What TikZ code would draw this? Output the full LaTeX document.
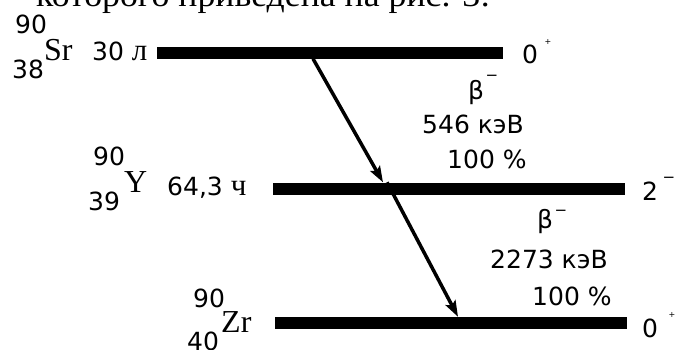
\documentclass[tikz,border=0pt]{standalone}
\usepackage{fontspec}
\usepackage{graphicx}
\setmainfont{DejaVu Sans}
\newfontfamily\sansf{DejaVu Sans}
\newfontfamily\serf{Liberation Serif}
\usetikzlibrary{arrows.meta,calc}
\tikzset{
  level/.style={fill=black, draw=none, minimum height=12pt, inner sep=0pt, anchor=west},
  lbl/.style={anchor=base west, inner sep=0pt, font=\sansf\fontsize{25}{25}\selectfont},
  sym/.style={anchor=base west, inner sep=0pt, font=\serf\fontsize{32}{32}\selectfont},
  sgn/.style={inner sep=0pt, font=\sansf\fontsize{15}{15}\selectfont},
  tiny/.style={inner sep=0pt, font=\sansf\fontsize{8}{8}\selectfont},
  decay/.style={line width=3.5pt, -{Stealth[length=16pt,width=11pt,inset=3pt]}}
}
\begin{document}
\begin{tikzpicture}[x=1pt,y=-1pt]
\useasboundingbox (0,0) rectangle (675,349);
\clip (0,0) rectangle (675,349);
% cut-off line of the surrounding text
\node[anchor=base west, inner sep=0pt, font=\serf\fontsize{33}{33}\selectfont] (top) at (36,6)
  {\resizebox{454pt}{\height}{которого приведена на рис. 3:}};
% levels
\node[level, minimum width=346pt] (bar1) at (157,52.5) {};
\node[level, minimum width=352pt] (bar2) at (273,188.5) {};
\node[level, minimum width=352pt] (bar3) at (275,323) {};
% Sr
\node[lbl] (srA) at (15,33) {90};
\node[lbl] (srZ) at (12,78) {38};
\node[sym] (srS) at (44,60) {Sr};
\node[lbl] (srT) at (92,60) {30 {\serf\fontsize{31}{31}\selectfont л}};
\node[lbl] (srJ) at (522,63) {0};
\node[tiny] (srP) at (548,42) {+};
% Y
\node[lbl] (yA) at (93,165) {90};
\node[lbl] (yZ) at (88,210) {39};
\node[sym] (yS) at (124,192) {Y};
\node[lbl] (yT) at (167,195) {64,3 {\serf\fontsize{31}{31}\selectfont ч}};
\node[lbl] (yJ) at (642,200) {2};
\node[sgn] (yP) at (669,180) {−};
% Zr
\node[lbl] (zA) at (193,307) {90};
\node[lbl] (zZ) at (187,350) {40};
\node[sym] (zS) at (221,332) {Zr};
\node[lbl] (zJ) at (642,337) {0};
\node[tiny] (zP) at (672,315) {+};
% decay labels
\node[lbl] (b1) at (468,99) {β};
\node[sgn] (b1m) at (492,78) {−};
\node[lbl] (e1) at (422,133) {546 кэВ};
\node[lbl] (p1) at (447,168) {100 \%};
\node[lbl] (b2) at (537,228) {β};
\node[sgn] (b2m) at (561,213) {−};
\node[lbl] (e2) at (490,268) {2273 кэВ};
\node[lbl] (p2) at (532,305) {100 \%};
% decay arrows
\coordinate (a1s) at ([xshift=156pt]bar1.south west);
\coordinate (a1e) at ([xshift=110pt]bar2.north west);
\coordinate (a2s) at ([xshift=114pt]bar2.north west);
\coordinate (a2e) at ([xshift=183pt]bar3.north west);
\draw[decay] (a1s) -- (a1e);
\draw[decay] (a2s) -- (a2e);
\end{tikzpicture}
\end{document}
